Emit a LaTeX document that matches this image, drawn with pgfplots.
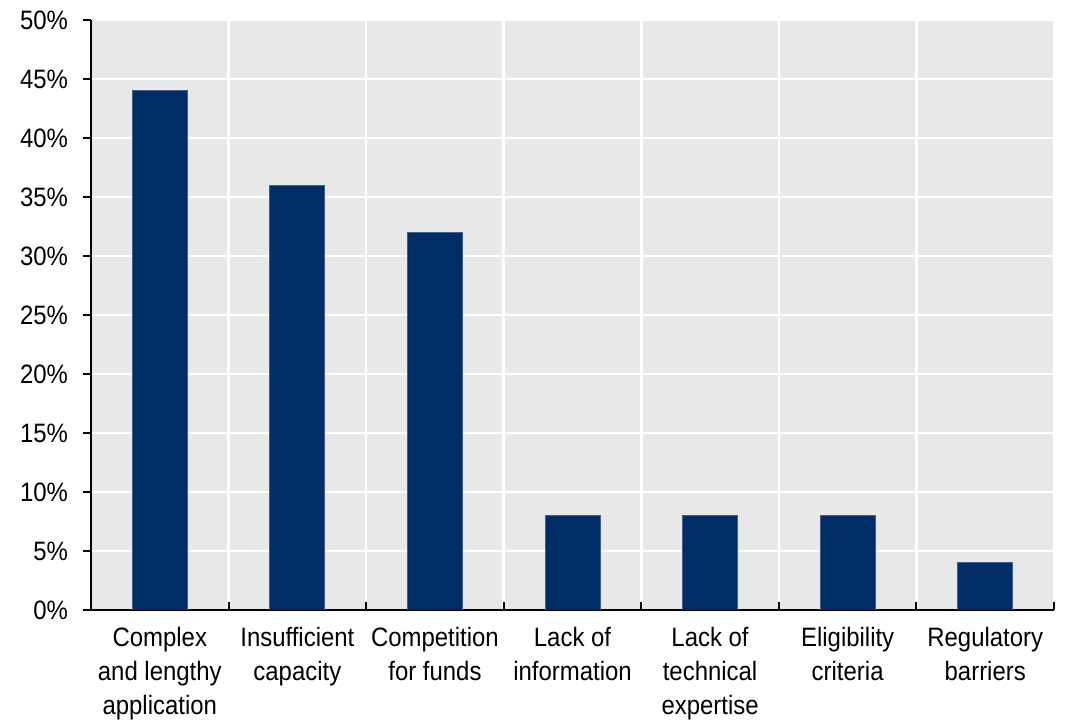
\documentclass[border=0pt]{standalone}
\usepackage{fontspec}
\setmainfont{Liberation Sans}[FakeStretch=0.9]
\usepackage{pgfplots}
\pgfplotsset{compat=1.18}
\definecolor{barblue}{RGB}{0,45,104}
\definecolor{panel}{RGB}{232,232,232}

\begin{document}
\begin{tikzpicture}[font=\fontsize{13.3}{17}\selectfont]
\begin{axis}[
    name=main,
    scale only axis,
    width=481.5pt, height=295pt,
    ybar, bar width=27.5pt,
    xmin=-0.5, xmax=6.5,
    ymin=0, ymax=50,
    axis x line*=bottom, axis y line*=left,
    axis line style={black, line width=1pt},
    axis background/.style={fill=panel},
    xtick={0,...,6},
    minor xtick={0.5,1.5,...,6.5},
    xticklabels={{Complex\\and lengthy\\application},{Insufficient\\capacity},{Competition\\for funds},{Lack of\\information},{Lack of\\technical\\expertise},{Eligibility\\criteria},{Regulatory\\barriers}},
    xticklabel style={align=center, yshift=-5pt},
    ytick={0,5,...,50},
    yticklabel={\pgfmathprintnumber{\tick}\%},
    /pgf/number format/assume math mode=true,
    yticklabel style={xshift=-4pt},
    xtick align=inside, ytick align=outside,
    major tick length=4pt, minor tick length=4pt,
    major x tick style={draw=none},
    minor x tick style={black, line width=1pt},
    y tick style={black, line width=1pt},
    ymajorgrids, xminorgrids,
    major grid style={white, line width=1.3pt},
    minor grid style={white, line width=1.3pt},
]
\addplot[fill=barblue, draw=barblue!75!white, line width=0.4pt] coordinates {
    (0,44) (1,36) (2,32) (3,8) (4,8) (5,8) (6,4)
};
\end{axis}
\path ([xshift=-45.5pt, yshift=-55pt]main.south west) rectangle ([xshift=6pt, yshift=10pt]main.north east);
\end{tikzpicture}
\end{document}
